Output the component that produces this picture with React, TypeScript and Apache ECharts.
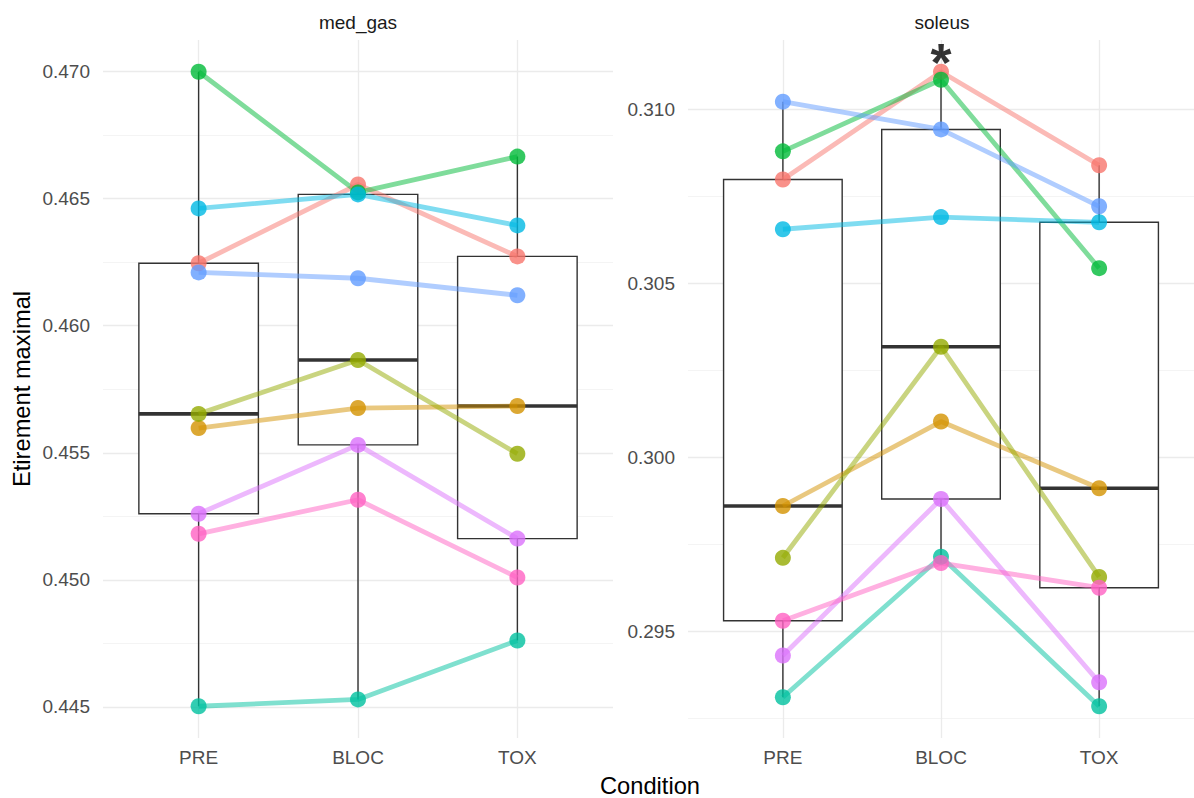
import React, { useEffect, useRef } from "react";
import * as echarts from "echarts";

// ---- Data ----
const conditions = ["PRE", "BLOC", "TOX"];
const conditionPositions = [1, 2, 3];
const panelNames = ["med_gas", "soleus"];
const subjects = ["S1", "S2", "S3", "S4", "S5", "S6", "S7", "S8", "S9"];
const subjectColors = [
  "#F8766D", "#D39200", "#93AA00", "#00BA38", "#00C19F",
  "#00B9E3", "#619CFF", "#DB72FB", "#FF61C3",
];

// med_gas values per condition (one value per subject, same order as subjects)
const medGasPre = [0.46246, 0.45597, 0.45653, 0.47, 0.44502, 0.46462, 0.4621, 0.4526, 0.45181];
const medGasBloc = [0.46556, 0.45676, 0.45865, 0.46525, 0.44529, 0.46517, 0.46187, 0.45531, 0.45315];
const medGasTox = [0.46273, 0.45684, 0.45496, 0.46666, 0.44761, 0.46395, 0.4612, 0.45162, 0.45009];

// soleus values per condition
const soleusPre = [0.30799, 0.2986, 0.29711, 0.3088, 0.2931, 0.30656, 0.31023, 0.2943, 0.2953];
const soleusBloc = [0.31109, 0.30103, 0.30318, 0.31086, 0.29714, 0.30691, 0.30943, 0.2988, 0.29696];
const soleusTox = [0.3084, 0.29911, 0.29656, 0.30544, 0.29284, 0.30676, 0.30722, 0.29353, 0.29625];

// tick values
const medGasTicks = [0.445, 0.45, 0.455, 0.46, 0.465, 0.47];
const medGasMinorTicks = [0.4475, 0.4525, 0.4575, 0.4625, 0.4675];
const soleusTicks = [0.295, 0.3, 0.305, 0.31];
const soleusMinorTicks = [0.2925, 0.2975, 0.3025, 0.3075];

// significance annotation (soleus, BLOC)
const starCondition = 2;
const starValue = 0.31136;

// ---- helpers ----
const FONT = "Liberation Sans, Arial, Helvetica, sans-serif";

function quantile(sorted: number[], p: number) {
  const h = (sorted.length - 1) * p;
  const lo = Math.floor(h);
  const hi = Math.min(lo + 1, sorted.length - 1);
  return sorted[lo] + (h - lo) * (sorted[hi] - sorted[lo]);
}

function boxStats(values: number[]) {
  const s = [...values].sort((a, b) => a - b);
  const q1 = quantile(s, 0.25);
  const med = quantile(s, 0.5);
  const q3 = quantile(s, 0.75);
  const iqr = q3 - q1;
  const lo = Math.min(...s.filter((v) => v >= q1 - 1.5 * iqr));
  const hi = Math.max(...s.filter((v) => v <= q3 + 1.5 * iqr));
  return [lo, q1, med, q3, hi];
}

function paddedRange(groups: number[][]) {
  const all = groups.flat();
  const mn = Math.min(...all);
  const mx = Math.max(...all);
  const pad = (mx - mn) * 0.05;
  return [mn - pad, mx + pad];
}

const gridLine = { color: "#EBEBEB", width: 1.3 };
const minorGridLine = { color: "#EFEFEF", width: 0.7 };

function buildPanelSeries(groups: number[][], xIdx: number, yIdx: number) {
  const series: any[] = [];
  series.push({
    type: "custom",
    xAxisIndex: xIdx,
    yAxisIndex: yIdx,
    z: 1,
    silent: true,
    encode: { x: 0, y: [1, 2, 3, 4, 5] },
    data: groups.map((g, i) => [conditionPositions[i], ...boxStats(g)]),
    renderItem: (params: any, api: any) => {
      const x = api.value(0);
      const lo = api.value(1);
      const q1 = api.value(2);
      const med = api.value(3);
      const q3 = api.value(4);
      const hi = api.value(5);
      const w = api.size([0.75, 0])[0];
      const pHi = api.coord([x, hi]);
      const pQ3 = api.coord([x, q3]);
      const pMed = api.coord([x, med]);
      const pQ1 = api.coord([x, q1]);
      const pLo = api.coord([x, lo]);
      const stroke = "#333333";
      return {
        type: "group",
        children: [
          { type: "line", shape: { x1: pHi[0], y1: pHi[1], x2: pQ3[0], y2: pQ3[1] }, style: { stroke, lineWidth: 1.4 } },
          { type: "line", shape: { x1: pQ1[0], y1: pQ1[1], x2: pLo[0], y2: pLo[1] }, style: { stroke, lineWidth: 1.4 } },
          {
            type: "rect",
            shape: { x: pQ3[0] - w / 2, y: pQ3[1], width: w, height: pQ1[1] - pQ3[1] },
            style: { fill: "#ffffff", stroke, lineWidth: 1.4 },
          },
          {
            type: "line",
            shape: { x1: pMed[0] - w / 2, y1: pMed[1], x2: pMed[0] + w / 2, y2: pMed[1] },
            style: { stroke, lineWidth: 3.6 },
          },
        ],
      };
    },
  });
  subjects.forEach((s, si) => {
    series.push({
      type: "line",
      name: s,
      xAxisIndex: xIdx,
      yAxisIndex: yIdx,
      z: 2,
      silent: true,
      symbol: "none",
      data: groups.map((g, ci) => [conditionPositions[ci], g[si]]),
      lineStyle: { color: subjectColors[si], width: 4.8, opacity: 0.5 },
      itemStyle: { color: subjectColors[si] },
    });
  });
  subjects.forEach((s, si) => {
    series.push({
      type: "scatter",
      name: s,
      xAxisIndex: xIdx,
      yAxisIndex: yIdx,
      z: 3,
      silent: true,
      symbolSize: 16,
      data: groups.map((g, ci) => [conditionPositions[ci], g[si]]),
      itemStyle: { color: subjectColors[si], opacity: 0.8 },
    });
  });
  return series;
}

function xAxisFor(gridIndex: number) {
  return {
    type: "value",
    gridIndex,
    min: 0.4,
    max: 3.6,
    axisLine: { show: false },
    axisTick: { show: false, customValues: conditionPositions },
    axisLabel: {
      customValues: conditionPositions,
      formatter: (v: number) => conditions[Math.round(v) - 1] ?? "",
      color: "#4D4D4D",
      fontSize: 19,
      fontFamily: FONT,
      margin: 10,
    },
    splitLine: { show: true, lineStyle: gridLine },
  };
}

function yAxesFor(gridIndex: number, range: number[], major: number[], minor: number[]) {
  return [
    {
      type: "value",
      gridIndex,
      min: range[0],
      max: range[1],
      axisLine: { show: false },
      axisTick: { show: false, customValues: major },
      axisLabel: {
        customValues: major,
        formatter: (v: number) => v.toFixed(3),
        color: "#4D4D4D",
        fontSize: 19,
        fontFamily: FONT,
        margin: 13,
      },
      splitLine: { show: true, lineStyle: gridLine },
    },
    {
      type: "value",
      gridIndex,
      position: "left",
      min: range[0],
      max: range[1],
      axisLine: { show: false },
      axisTick: { show: false, customValues: minor },
      axisLabel: { show: false, customValues: minor },
      splitLine: { show: true, lineStyle: minorGridLine },
    },
  ];
}

export default function App() {
  const ref = useRef<HTMLDivElement>(null);

  useEffect(() => {
    if (!ref.current) return;
    const chart = echarts.init(ref.current, undefined, { renderer: "svg" });

    const medGasGroups = [medGasPre, medGasBloc, medGasTox];
    const soleusGroups = [soleusPre, soleusBloc, soleusTox];
    const medGasRange = paddedRange(medGasGroups);
    const soleusRange = paddedRange(soleusGroups);

    const option: any = {
      animation: false,
      backgroundColor: "#ffffff",
      textStyle: { fontFamily: FONT },
      grid: [
        { left: 103, top: 40, width: 510, height: 698 },
        { left: 688, top: 40, width: 509, height: 698 },
      ],
      xAxis: [xAxisFor(0), xAxisFor(1)],
      yAxis: [
        ...yAxesFor(0, medGasRange, medGasTicks, medGasMinorTicks),
        ...yAxesFor(1, soleusRange, soleusTicks, soleusMinorTicks),
      ],
      series: [
        ...buildPanelSeries(medGasGroups, 0, 0),
        ...buildPanelSeries(soleusGroups, 1, 2),
        {
          type: "scatter",
          xAxisIndex: 1,
          yAxisIndex: 2,
          z: 4,
          silent: true,
          symbolSize: 1,
          itemStyle: { color: "rgba(0,0,0,0)" },
          data: [[starCondition, starValue]],
          label: {
            show: true,
            position: "inside",
            formatter: "*",
            fontSize: 54,
            fontWeight: "bold",
            color: "#000000",
            fontFamily: FONT,
          },
        },
      ],
      graphic: [
        {
          type: "text",
          x: 358,
          y: 22,
          style: { text: panelNames[0], fontSize: 19, fontFamily: FONT, fill: "#1A1A1A", textAlign: "center", textVerticalAlign: "middle" },
        },
        {
          type: "text",
          x: 942,
          y: 22,
          style: { text: panelNames[1], fontSize: 19, fontFamily: FONT, fill: "#1A1A1A", textAlign: "center", textVerticalAlign: "middle" },
        },
        {
          type: "text",
          x: 650,
          y: 786,
          style: { text: "Condition", fontSize: 23.7, fontFamily: FONT, fill: "#000000", textAlign: "center", textVerticalAlign: "middle" },
        },
        {
          type: "text",
          x: 22,
          y: 389,
          rotation: Math.PI / 2,
          style: { text: "Etirement maximal", fontSize: 23.7, fontFamily: FONT, fill: "#000000", textAlign: "center", textVerticalAlign: "middle" },
        },
      ],
    };

    chart.setOption(option);
    return () => {
      chart.dispose();
    };
  }, []);

  return (
    <div
      ref={ref}
      style={{ position: "absolute", left: 0, top: 0, width: 1194, height: 798, background: "#fff" }}
    />
  );
}
